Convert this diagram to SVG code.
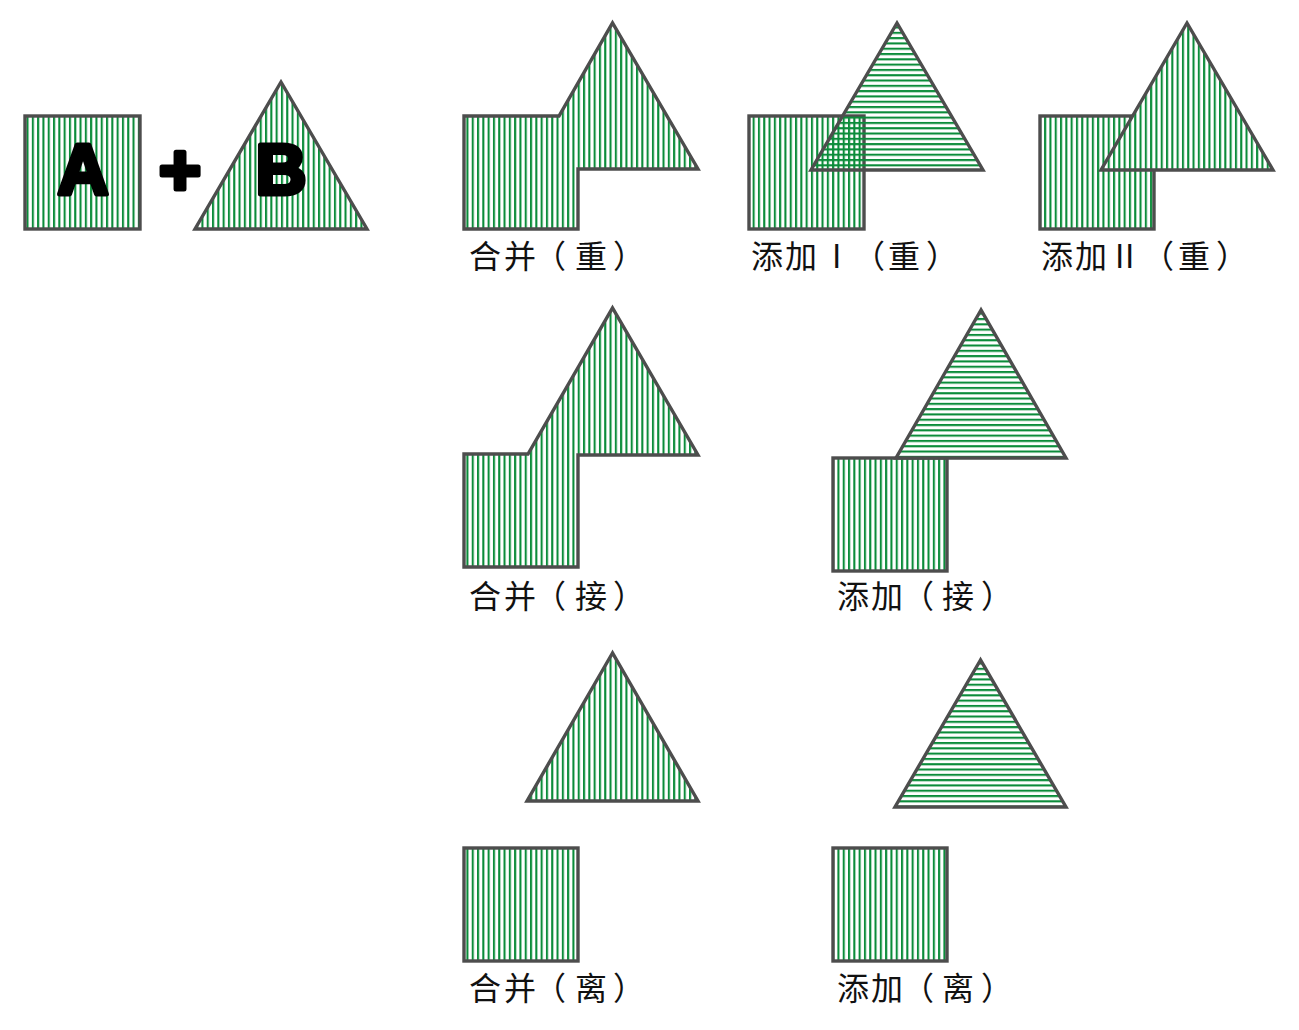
<svg xmlns="http://www.w3.org/2000/svg" width="1299" height="1030" viewBox="0 0 1299 1030">
<defs>
<pattern id="hv" patternUnits="userSpaceOnUse" width="5.3" height="10">
<rect x="0" y="0" width="2.1" height="10" fill="#0b8c3a"/>
</pattern>
<pattern id="hh" patternUnits="userSpaceOnUse" width="10" height="5.3">
<rect x="0" y="0" width="10" height="2.1" fill="#0b8c3a"/>
</pattern>
</defs>
<style>
.v{fill:url(#hv);stroke:#4d4d4d;stroke-width:3.4;stroke-linejoin:miter}
.h{fill:url(#hh);stroke:#4d4d4d;stroke-width:3.4;stroke-linejoin:miter}
.bg{fill:#fff;stroke:none}
.lbl{font-family:"Noto Sans CJK SC","Noto Sans",sans-serif;font-size:32px;fill:#111}
.big{font-family:"Liberation Sans",Arial,sans-serif;font-weight:bold;fill:#000;stroke:#000;stroke-width:5;stroke-linejoin:round}
</style>
<rect width="1299" height="1030" fill="#fff"/>

<g id="inputs">
<rect class="v" x="25" y="116" width="115" height="113"/>
<polygon class="v" points="281,82 195,229 367,229"/>
<text class="big" x="83" y="194" font-size="70" text-anchor="middle">A</text>
<text class="big" x="180" y="195" font-size="72" text-anchor="middle">+</text>
<text class="big" x="281" y="194" font-size="70" text-anchor="middle">B</text>
</g>

<g id="merge-overlap">
<path class="v" d="M464,116 L559,116 L612.5,23 L698,169 L578,169 L578,229 L464,229 Z"/>
<text class="lbl" x="469 504 534 575 613" y="268">合并（重）</text>
</g>

<g id="add1-overlap">
<rect class="v" x="749" y="116" width="115" height="113"/>
<polygon class="h" points="897,23 811,170 983,170"/>
<text class="lbl" x="751 785 832 853 888 926" y="268">添加I（重）</text>
</g>

<g id="add2-overlap">
<rect class="v" x="1040" y="116" width="114" height="113"/>
<polygon class="bg" points="1187,23 1101,170 1273,170"/>
<polygon class="v" points="1187,23 1101,170 1273,170"/>
<text class="lbl" x="1041 1075 1115 1125 1142 1178 1216" y="268">添加II（重）</text>
</g>

<g id="merge-touch">
<path class="v" d="M464,454 L528,454 L612.5,308 L698,455 L578,455 L578,567 L464,567 Z"/>
<text class="lbl" x="469 504 534 575 613" y="608">合并（接）</text>
</g>

<g id="add-touch">
<rect class="v" x="833" y="458" width="114" height="113"/>
<polygon class="h" points="981,310 896,458 1066,458"/>
<text class="lbl" x="837 871 902 942 981" y="608">添加（接）</text>
</g>

<g id="merge-apart">
<polygon class="v" points="612.5,653 527,801 698,801"/>
<rect class="v" x="464" y="848" width="114" height="113"/>
<text class="lbl" x="469 504 534 575 613" y="1000">合并（离）</text>
</g>

<g id="add-apart">
<polygon class="h" points="980.5,660 895,807 1066,807"/>
<rect class="v" x="833" y="848" width="114" height="113"/>
<text class="lbl" x="837 871 902 942 981" y="1000">添加（离）</text>
</g>

<g id="connectors"></g>
</svg>
